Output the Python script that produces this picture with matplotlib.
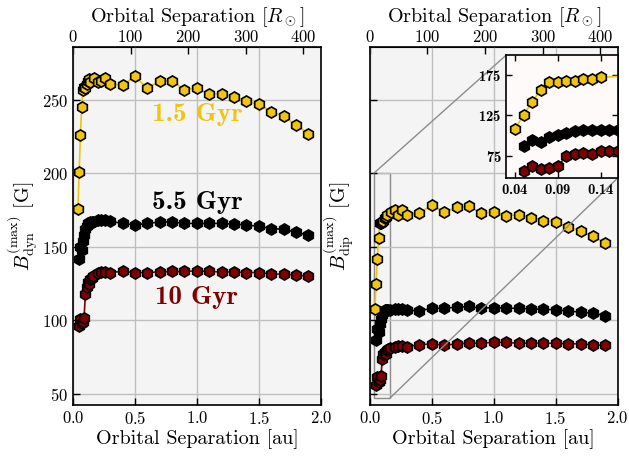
"""
Maximum dynamo and dipole field strength against orbital separation
for three stellar ages, with a zoom on the short-period end.
"""

import matplotlib.pyplot as plt
from mpl_toolkits.axes_grid1.inset_locator import mark_inset

plt.rcParams.update({
    "font.family": "serif",
    "font.serif": ["cmr10"],
    "mathtext.fontset": "cm",
    "axes.formatter.use_mathtext": True,
    "axes.unicode_minus": False,
})

AU_TO_RSUN = 215.03

GOLD = "#f1c40f"
DARKRED = "#7f0000"

# 1.5 Gyr
sep_young = [0.04, 0.05, 0.06, 0.07, 0.08, 0.09, 0.10, 0.11, 0.12, 0.13, 0.14,
             0.17, 0.20, 0.23, 0.26, 0.30,
             0.4, 0.5, 0.6, 0.7, 0.8, 0.9, 1.0, 1.1, 1.2, 1.3, 1.4, 1.5, 1.6, 1.7, 1.8, 1.9]
bdyn_young = [176, 201, 226, 245, 257, 259, 258, 261, 263, 264, 262,
              265, 262, 263, 265, 261,
              260, 266, 258, 263, 263, 257, 258, 254, 254, 252, 249, 247, 242, 239, 233, 227]
bdip_young = [108, 125, 142, 156, 166, 166, 167, 167.5, 170, 170.5, 172,
              174, 175, 172, 175, 172,
              173, 178.7, 173.5, 176.9, 177.6, 173.1, 173.5, 171.3, 171.9, 169.7, 167.8, 167, 163.6, 161, 157.2, 152.7]

# 5.5 Gyr
sep_mid = [0.05, 0.06, 0.07, 0.08, 0.09, 0.10, 0.11, 0.12, 0.13, 0.14, 0.15, 0.16,
           0.20, 0.23, 0.26, 0.30,
           0.4, 0.5, 0.6, 0.7, 0.8, 0.9, 1.0, 1.1, 1.2, 1.3, 1.4, 1.5, 1.6, 1.7, 1.8, 1.9]
bdyn_mid = [142, 150, 148, 154, 158, 162, 164, 166, 166, 167, 167, 167,
            168, 168, 168, 167.5,
            166, 165, 166, 167, 167, 166, 166, 166, 166, 165.5, 165, 164, 162.5, 162, 160, 158]
bdip_mid = [87, 94.5, 92.4, 97.8, 100.7, 103.5, 105.6, 106.8, 106.8, 107, 107, 107,
            107.5, 107.5, 107.5, 107,
            106.5, 108.3, 108.3, 109, 109.5, 108.3, 108.8, 108.3, 108.3, 107.8, 107.6, 107.2, 106.5, 105.6, 104.9, 103.3]

# 10 Gyr
sep_old = [0.05, 0.06, 0.07, 0.08, 0.09, 0.10, 0.11, 0.12, 0.13, 0.14, 0.15, 0.16,
           0.20, 0.23, 0.26, 0.30,
           0.4, 0.5, 0.6, 0.7, 0.8, 0.9, 1.0, 1.1, 1.2, 1.3, 1.4, 1.5, 1.6, 1.7, 1.8, 1.9]
bdyn_old = [96, 101, 98, 99, 102, 118, 123, 126, 125, 128, 129, 130,
            132, 133, 133, 132.5,
            133.5, 132.5, 132.6, 133, 133.3, 133.3, 133.8, 133.3, 133, 133, 132.6, 132.6, 131.7, 131.4, 131, 130]
bdip_old = [56, 61.4, 58, 59.4, 62.2, 73.8, 77, 78.7, 77, 80, 80.8, 81.2,
            82, 82.5, 82.5, 82.2,
            83.4, 84.1, 83, 84.1, 84.5, 84.5, 85.2, 85, 84.5, 84.5, 84.5, 84.5, 84.1, 84.1, 83.4, 83]

SERIES = [
    (sep_old, bdyn_old, bdip_old, DARKRED),
    (sep_mid, bdyn_mid, bdip_mid, "black"),
    (sep_young, bdyn_young, bdip_young, GOLD),
]


def draw_series(ax, which, ms=8):
    for sep, bdyn, bdip, color in SERIES:
        vals = bdyn if which == "dyn" else bdip
        ax.plot(sep, vals, "-", color=color, lw=1.2, marker="h", ms=ms,
                mfc=color, mec="black", mew=1.2)


def style_main(ax):
    ax.set_facecolor("#f4f4f4")
    ax.grid(True, color="0.75", lw=1)
    ax.set_xlim(0, 2)
    ax.set_ylim(42.5, 286)
    ax.set_xticks([0, 0.5, 1.0, 1.5, 2.0])
    ax.set_yticks([50, 100, 150, 200, 250])
    ax.tick_params(direction="in", length=5, width=1, labelsize=12)
    for sp in ax.spines.values():
        sp.set_linewidth(1.2)
    ax.set_xlabel("Orbital Separation [au]", fontsize=14.5, labelpad=2)
    sec = ax.secondary_xaxis("top", functions=(lambda a: a * AU_TO_RSUN,
                                               lambda r: r / AU_TO_RSUN))
    sec.set_xticks([0, 100, 200, 300, 400])
    sec.tick_params(direction="in", length=5, width=1, labelsize=12, pad=1.5)
    sec.set_xlabel(r"Orbital Separation [$R_\odot$]", fontsize=14.5, labelpad=5)


fig = plt.figure(figsize=(6.29, 4.66), dpi=100)
ax1 = fig.add_axes([0.116, 0.131, 0.394, 0.768])
ax2 = fig.add_axes([0.588, 0.131, 0.394, 0.768], sharey=ax1)

# left: dynamo field
style_main(ax1)
draw_series(ax1, "dyn")
ax1.set_ylabel(r"$B_{\rm dyn}^{(\rm max)}$ [G]", fontsize=14.5)
ax1.yaxis.set_label_coords(-0.135, 0.5)
ax1.text(1.0, 240, "1.5 Gyr", color=GOLD, family="cmb10", fontsize=19.5,
         ha="center", va="center")
ax1.text(1.0, 180, "5.5 Gyr", color="black", family="cmb10", fontsize=19.5,
         ha="center", va="center")
ax1.text(1.0, 115.5, "10 Gyr", color=DARKRED, family="cmb10", fontsize=19.5,
         ha="center", va="center")

# right: dipole field
style_main(ax2)
draw_series(ax2, "dip")
ax2.tick_params(labelleft=False)
ax2.set_ylabel(r"$B_{\rm dip}^{(\rm max)}$ [G]", fontsize=14.5)
ax2.yaxis.set_label_coords(-0.055, 0.5)

# zoom on the closest orbits
axins = ax2.inset_axes([0.551, 0.634, 0.449, 0.344])
axins.set_facecolor("snow")
draw_series(axins, "dip", ms=8)
axins.set_xlim(0.03, 0.16)
axins.set_ylim(47, 200)
axins.set_xticks([0.04, 0.09, 0.14])
axins.set_yticks([75, 125, 175])
axins.tick_params(direction="in", length=4, width=1, top=True, right=True,
                  labelsize=10.5)
for lab in axins.get_xticklabels() + axins.get_yticklabels():
    lab.set_family("cmb10")
for sp in axins.spines.values():
    sp.set_linewidth(1.2)
mark_inset(ax2, axins, loc1=2, loc2=4, fc="none", ec="0.55", lw=1)

fig.savefig("out.png", dpi=100)
